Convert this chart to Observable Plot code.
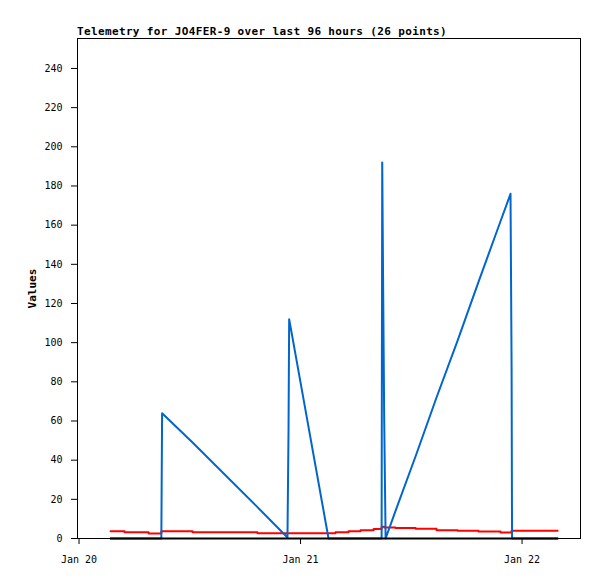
<!DOCTYPE html>
<html><head><meta charset="utf-8">
<script src="https://cdn.jsdelivr.net/npm/d3@7"></script>
<script src="https://cdn.jsdelivr.net/npm/@observablehq/plot@0.6"></script>
<style>
body{margin:0;background:#fff;}
#title{position:relative;height:37px;width:597px;}
#title span{position:absolute;left:77px;top:26px;font:bold 11px "DejaVu Sans Mono";letter-spacing:0.36px;line-height:11px;white-space:nowrap;color:#000;}
</style></head><body>
<div id="title"><span>Telemetry for JO4FER-9 over last 96 hours (26 points)</span></div>
<div id="chart"></div>
<script>
const times = [
  "2024-01-20T03:25Z","2024-01-20T04:56Z","2024-01-20T07:32Z","2024-01-20T08:55Z","2024-01-20T09:00Z",
  "2024-01-20T12:18Z","2024-01-20T19:20Z","2024-01-20T22:35Z","2024-01-20T22:42Z","2024-01-20T22:46Z",
  "2024-01-21T03:02Z","2024-01-21T03:47Z","2024-01-21T05:12Z","2024-01-21T06:30Z","2024-01-21T07:55Z",
  "2024-01-21T08:47Z","2024-01-21T08:51Z","2024-01-21T08:57Z","2024-01-21T09:04Z","2024-01-21T09:13Z",
  "2024-01-21T10:17Z","2024-01-21T12:28Z","2024-01-21T14:44Z","2024-01-21T17:01Z","2024-01-21T19:17Z",
  "2024-01-21T21:40Z","2024-01-21T22:45Z","2024-01-21T22:52Z","2024-01-21T22:55Z","2024-01-22T03:51Z"
];
const blueValues = [0,0,0,0,64, 49,16,0.5,56,112, 0,0,0,0,0, 0,192,128,60,0, 14,42,72,101,131, 162,176,88,0,0];
const redValues = [3.7,3.2,2.55,3.7,3.7, 3.2,2.7,2.7,2.7,2.7, 2.7,3.2,3.7,4.2,4.8, 6.0,6.0,6.0,5.6,5.6, 5.3,5.0,4.2,3.9,3.6, 3.1,3.1,3.9,3.9,3.9];
const blackValues = [0,0,0,0,0, 0,0,0,0,0, 0,0,0,0,0, 0,0,0,0,0, 0,0,0,0,0, 0,0,0,0,0];
const yTicks = [0,20,40,60,80,100,120,140,160,180,200,220,240];
const xTicks = ["2024-01-20T00:00Z","2024-01-21T00:00Z","2024-01-22T00:00Z"];
const xTickLabels = ["Jan 20","Jan 21","Jan 22"];
const yLabel = "Values";

const rows = times.map((t, i) => ({t: new Date(t), blue: blueValues[i], red: redValues[i], black: blackValues[i]}));
const xTickDates = xTicks.map(d => new Date(d));
const labelOf = d => xTickLabels[xTickDates.findIndex(t => +t === +d)];

const chart = Plot.plot({
  width: 597, height: 542,
  marginTop: 1, marginLeft: 77, marginRight: 17, marginBottom: 41,
  style: {fontFamily: "DejaVu Sans Mono", fontSize: "10px", color: "#000", background: "#fff", overflow: "visible"},
  x: {type: "utc", domain: [new Date("2024-01-19T23:50Z"), new Date("2024-01-22T06:20Z")]},
  y: {domain: [0, 255.3]},
  marks: [
    Plot.axisY(yTicks, {tickSize: 6, tickPadding: 9, label: null}),
    Plot.axisX(xTickDates, {tickSize: 6, tickPadding: 11, tickFormat: labelOf, label: null}),
    Plot.lineY(rows, {x: "t", y: "red", stroke: "#ff0000", strokeWidth: 2, curve: "step-after"}),
    Plot.lineY(rows, {x: "t", y: "blue", stroke: "#0066cc", strokeWidth: 2}),
    Plot.lineY(rows, {x: "t", y: "black", stroke: "#000000", strokeWidth: 2}),
    Plot.frame({stroke: "#000"}),
    Plot.text([yLabel], {text: d => d, frameAnchor: "left", textAnchor: "middle", rotate: -90, dx: -45, fontWeight: "bold", fontSize: 11, fill: "#000"})
  ]
});
document.getElementById("chart").appendChild(chart);
</script>
</body></html>
